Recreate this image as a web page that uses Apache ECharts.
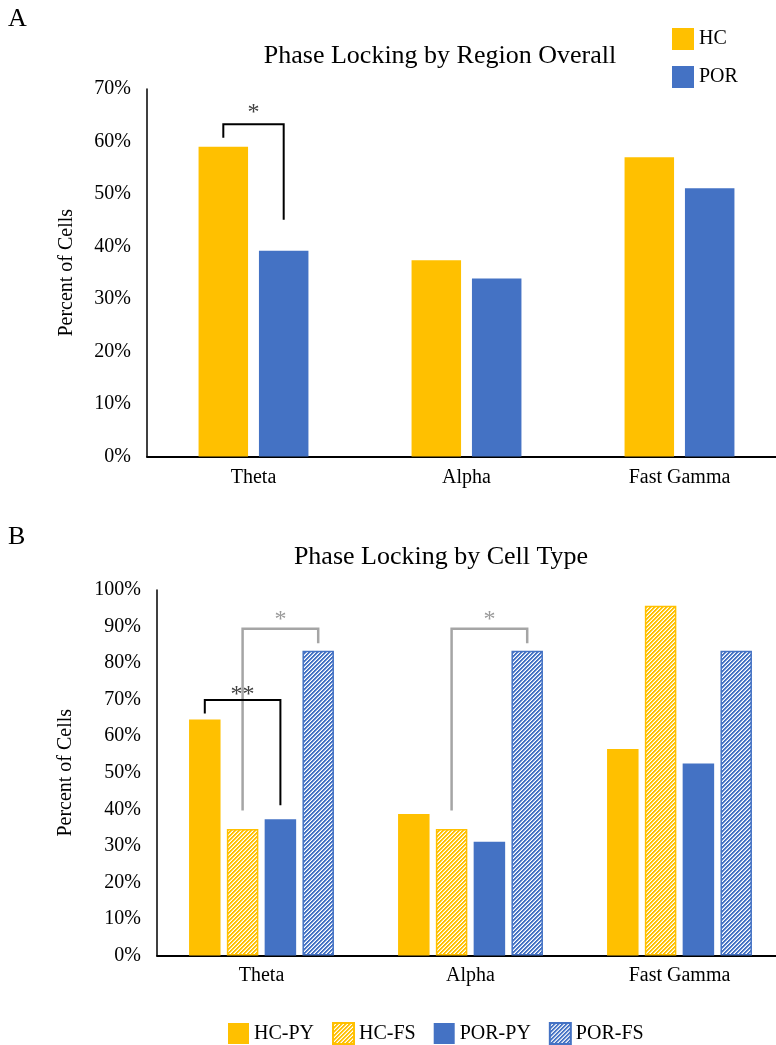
<!DOCTYPE html>
<html><head><meta charset="utf-8">
<script src="https://cdn.jsdelivr.net/npm/echarts@6/dist/echarts.min.js"></script>
<style>html,body{margin:0;padding:0;background:#fff;overflow:hidden}#c{width:790px;height:1045px}</style>
</head><body><div id="c"></div>
<script>
// ---- data ----
const categories = ['Theta', 'Alpha', 'Fast Gamma'];
const hcOverall = [59.0, 37.4, 57.0];
const porOverall = [39.2, 33.9, 51.1];
const hcPY = [64.6, 38.7, 56.5];
const hcFS = [34.6, 34.6, 95.7];
const porPY = [37.3, 31.1, 52.5];
const porFS = [83.4, 83.4, 83.4];
const legendA = ['HC', 'POR'];
const legendB = ['HC-PY', 'HC-FS', 'POR-PY', 'POR-FS'];
// significance brackets: category, from series, to series, values (percent) of top, left end, right end, star
const bracketsA = [
  {cat: 0, from: 'HC', to: 'POR', top: 63.3, leftEnd: 60.7, rightEnd: 45.1, star: 66.4, text: '*', tone: 'dark'}
];
const bracketsB = [
  {cat: 0, from: 'HC-FS', to: 'POR-FS', top: 89.4, leftEnd: 39.7, rightEnd: 85.4, star: 93.2, text: '*', tone: 'gray'},
  {cat: 0, from: 'HC-PY', to: 'POR-PY', top: 69.9, leftEnd: 66.2, rightEnd: 41.1, star: 72.6, text: '**', tone: 'dark'},
  {cat: 1, from: 'HC-FS', to: 'POR-FS', top: 89.4, leftEnd: 39.7, rightEnd: 85.4, star: 93.2, text: '*', tone: 'gray'}
];

const FONT = '"Liberation Serif", "Times New Roman", serif';
const YELLOW = '#FFC000';
const BLUE = '#4472C4';
const tones = {dark: {line: '#000000', text: '#404040', w: 2}, gray: {line: '#A5A5A5', text: '#9a9a9a', w: 2.5}};

function hatch(color) {
  const c = document.createElement('canvas');
  c.width = 4; c.height = 4;
  const g = c.getContext('2d');
  g.fillStyle = '#ffffff'; g.fillRect(0, 0, 4, 4);
  for (let y = 0; y < 4; y++) for (let x = 0; x < 4; x++) {
    const k = (x + y) % 4;
    if (k < 2) { g.globalAlpha = 1; g.fillStyle = color; g.fillRect(x, y, 1, 1); }
    else if (k === 2) { g.globalAlpha = 0.45; g.fillStyle = color; g.fillRect(x, y, 1, 1); }
  }
  return {image: c, repeat: 'repeat'};
}

const chart = echarts.init(document.getElementById('c'), null, {renderer: 'canvas'});

const axisTxt = {fontFamily: FONT, fontSize: 20, color: '#000'};
function yAxis(gridIndex, max, gap) {
  return {
    type: 'value', gridIndex: gridIndex, min: 0, max: max, interval: 10,
    name: 'Percent of Cells', nameLocation: 'middle', nameRotate: 90, nameGap: gap,
    nameTextStyle: {fontFamily: FONT, fontSize: 20, color: '#000'},
    axisLine: {show: true, lineStyle: {color: '#000', width: 1.5}},
    axisTick: {show: false}, splitLine: {show: false},
    axisLabel: Object.assign({formatter: '{value}%', margin: 16}, axisTxt)
  };
}
function xAxis(gridIndex, margin) {
  return {
    type: 'category', gridIndex: gridIndex, data: categories,
    axisLine: {show: true, lineStyle: {color: '#000', width: 2}},
    axisTick: {show: false},
    axisLabel: Object.assign({margin: margin}, axisTxt)
  };
}
const solid = (c) => ({color: c});
const hatched = (c) => ({color: hatch(c), borderColor: c, borderWidth: 1.5});

chart.setOption({
  animation: false,
  backgroundColor: '#fff',
  title: [
    {text: 'Phase Locking by Region Overall', left: 440, top: 43, textAlign: 'center', padding: 0,
     textStyle: {fontFamily: FONT, fontSize: 26, fontWeight: 'normal', color: '#000'}},
    {text: 'Phase Locking by Cell Type', left: 441, top: 544, textAlign: 'center', padding: 0,
     textStyle: {fontFamily: FONT, fontSize: 26, fontWeight: 'normal', color: '#000'}}
  ],
  legend: [
    {data: legendA, orient: 'vertical', left: 672, top: 28, itemWidth: 22, itemHeight: 22, itemGap: 16,
     icon: 'rect', padding: 0, textStyle: {fontFamily: FONT, fontSize: 20, color: '#000'}},
    {data: legendB, orient: 'horizontal', left: 228, top: 1022, itemWidth: 21, itemHeight: 21, itemGap: 18,
     icon: 'rect', padding: 0, textStyle: {fontFamily: FONT, fontSize: 20, color: '#000'}}
  ],
  grid: [
    {left: 147, top: 89, width: 639, height: 367.5},
    {left: 157, top: 590, width: 627, height: 365.5}
  ],
  xAxis: [xAxis(0, 11), xAxis(1, 10)],
  yAxis: [yAxis(0, 70, 70), yAxis(1, 100, 81)],
  series: [
    {name: 'HC', type: 'bar', xAxisIndex: 0, yAxisIndex: 0, data: hcOverall, barWidth: 49.5, barGap: '22%', itemStyle: solid(YELLOW)},
    {name: 'POR', type: 'bar', xAxisIndex: 0, yAxisIndex: 0, data: porOverall, barWidth: 49.5, barGap: '22%', itemStyle: solid(BLUE)},
    {name: 'HC-PY', type: 'bar', xAxisIndex: 1, yAxisIndex: 1, data: hcPY, barWidth: 31.5, barGap: '20%', itemStyle: solid(YELLOW)},
    {name: 'HC-FS', type: 'bar', xAxisIndex: 1, yAxisIndex: 1, data: hcFS, barWidth: 31.5, barGap: '20%', itemStyle: hatched(YELLOW)},
    {name: 'POR-PY', type: 'bar', xAxisIndex: 1, yAxisIndex: 1, data: porPY, barWidth: 31.5, barGap: '20%', itemStyle: solid(BLUE)},
    {name: 'POR-FS', type: 'bar', xAxisIndex: 1, yAxisIndex: 1, data: porFS, barWidth: 31.5, barGap: '20%', itemStyle: hatched(BLUE)}
  ]
});

// ---- annotations placed through the library's own layout and scales ----
const seriesIndex = {'HC': 0, 'POR': 1, 'HC-PY': 2, 'HC-FS': 3, 'POR-PY': 4, 'POR-FS': 5};
function barCenter(name, cat) {
  const l = chart.getModel().getSeriesByIndex(seriesIndex[name]).getData().getItemLayout(cat);
  return l.x + l.width / 2;
}
function yPix(axis, v) { return chart.convertToPixel({yAxisIndex: axis}, v); }

const elements = [
  {type: 'text', x: 8, y: 19, style: {text: 'A', font: '26px ' + FONT, fill: '#000', align: 'left', verticalAlign: 'middle'}},
  {type: 'text', x: 8, y: 537, style: {text: 'B', font: '26px ' + FONT, fill: '#000', align: 'left', verticalAlign: 'middle'}}
];
function addBrackets(list, axis) {
  list.forEach(b => {
    const t = tones[b.tone];
    const x1 = barCenter(b.from, b.cat), x2 = barCenter(b.to, b.cat);
    const yt = yPix(axis, b.top), yl = yPix(axis, b.leftEnd), yr = yPix(axis, b.rightEnd);
    elements.push({type: 'polyline', z: 10, shape: {points: [[x1, yl], [x1, yt], [x2, yt], [x2, yr]]},
      style: {stroke: t.line, lineWidth: t.w, fill: null, lineJoin: 'miter'}});
    elements.push({type: 'text', z: 10, x: (x1 + x2) / 2, y: yPix(axis, b.star) + 5,
      style: {text: b.text, font: '24px ' + FONT, fill: t.text, align: 'center', verticalAlign: 'middle'}});
  });
}
addBrackets(bracketsA, 0);
addBrackets(bracketsB, 1);
chart.setOption({graphic: {elements: elements}});
</script>
</body></html>
